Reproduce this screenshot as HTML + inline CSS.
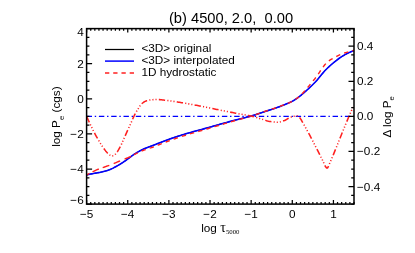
<!DOCTYPE html>
<html><head><meta charset="utf-8"><style>
html,body{margin:0;padding:0;background:#fff;}
svg{display:block;will-change:transform;font-family:"Liberation Sans",sans-serif;}
</style></head><body>
<svg width="415" height="253" viewBox="0 0 415 253">
<rect width="415" height="253" fill="#fff"/>
<g fill="none" stroke-linejoin="round">
<path d="M86.60,174.90 L87.60,174.68 L88.60,174.47 L89.60,174.26 L90.60,174.05 L91.60,173.86 L92.60,173.66 L93.60,173.48 L94.60,173.31 L95.60,173.15 L96.60,172.99 L97.60,172.82 L98.60,172.65 L99.60,172.47 L100.60,172.26 L101.60,172.04 L102.60,171.81 L103.60,171.56 L104.60,171.29 L105.60,171.01 L106.60,170.71 L107.60,170.39 L108.60,170.05 L109.60,169.69 L110.60,169.29 L111.60,168.84 L112.60,168.36 L113.60,167.85 L114.60,167.32 L115.60,166.77 L116.60,166.22 L117.60,165.66 L118.60,165.09 L119.60,164.50 L120.60,163.88 L121.60,163.26 L122.60,162.61 L123.60,161.95 L124.60,161.29 L125.60,160.61 L126.60,159.92 L127.60,159.20 L128.60,158.45 L129.60,157.67 L130.60,156.90 L131.60,156.13 L132.60,155.38 L133.60,154.67 L134.60,154.00 L135.60,153.37 L136.60,152.76 L137.60,152.16 L138.60,151.58 L139.60,151.02 L140.60,150.49 L141.60,149.98 L142.60,149.49 L143.60,149.03 L144.60,148.59 L145.60,148.17 L146.60,147.77 L147.60,147.38 L148.60,147.00 L149.60,146.63 L150.60,146.27 L151.60,145.90 L152.60,145.53 L153.60,145.15 L154.60,144.77 L155.60,144.38 L156.60,143.99 L157.60,143.61 L158.60,143.22 L159.60,142.83 L160.60,142.44 L161.60,142.05 L162.60,141.67 L163.60,141.29 L164.60,140.91 L165.60,140.53 L166.60,140.16 L167.60,139.79 L168.60,139.42 L169.60,139.07 L170.60,138.71 L171.60,138.37 L172.60,138.02 L173.60,137.69 L174.60,137.35 L175.60,137.02 L176.60,136.69 L177.60,136.37 L178.60,136.05 L179.60,135.73 L180.60,135.42 L181.60,135.11 L182.60,134.80 L183.60,134.49 L184.60,134.19 L185.60,133.89 L186.60,133.59 L187.60,133.29 L188.60,133.00 L189.60,132.71 L190.60,132.43 L191.60,132.15 L192.60,131.87 L193.60,131.59 L194.60,131.32 L195.60,131.05 L196.60,130.78 L197.60,130.51 L198.60,130.24 L199.60,129.97 L200.60,129.70 L201.60,129.43 L202.60,129.16 L203.60,128.89 L204.60,128.61 L205.60,128.33 L206.60,128.05 L207.60,127.77 L208.60,127.49 L209.60,127.21 L210.60,126.93 L211.60,126.65 L212.60,126.36 L213.60,126.08 L214.60,125.80 L215.60,125.51 L216.60,125.23 L217.60,124.94 L218.60,124.66 L219.60,124.38 L220.60,124.10 L221.60,123.81 L222.60,123.53 L223.60,123.26 L224.60,122.98 L225.60,122.70 L226.60,122.42 L227.60,122.15 L228.60,121.88 L229.60,121.61 L230.60,121.34 L231.60,121.08 L232.60,120.82 L233.60,120.56 L234.60,120.31 L235.60,120.05 L236.60,119.81 L237.60,119.56 L238.60,119.31 L239.60,119.06 L240.60,118.81 L241.60,118.56 L242.60,118.31 L243.60,118.06 L244.60,117.81 L245.60,117.55 L246.60,117.29 L247.60,117.02 L248.60,116.75 L249.60,116.47 L250.60,116.19 L251.60,115.90 L252.60,115.60 L253.60,115.29 L254.60,114.98 L255.60,114.66 L256.60,114.33 L257.60,114.00 L258.60,113.67 L259.60,113.33 L260.60,113.00 L261.60,112.66 L262.60,112.32 L263.60,111.99 L264.60,111.66 L265.60,111.33 L266.60,111.01 L267.60,110.69 L268.60,110.37 L269.60,110.06 L270.60,109.75 L271.60,109.43 L272.60,109.11 L273.60,108.78 L274.60,108.44 L275.60,108.09 L276.60,107.73 L277.60,107.37 L278.60,107.00 L279.60,106.63 L280.60,106.25 L281.60,105.86 L282.60,105.46 L283.60,105.06 L284.60,104.66 L285.60,104.25 L286.60,103.85 L287.60,103.44 L288.60,103.02 L289.60,102.58 L290.60,102.11 L291.60,101.62 L292.60,101.09 L293.60,100.52 L294.60,99.90 L295.60,99.23 L296.60,98.54 L297.60,97.81 L298.60,97.07 L299.60,96.31 L300.60,95.53 L301.60,94.75 L302.60,93.93 L303.60,93.09 L304.60,92.22 L305.60,91.33 L306.60,90.42 L307.60,89.49 L308.60,88.56 L309.60,87.62 L310.60,86.67 L311.60,85.71 L312.60,84.74 L313.60,83.75 L314.60,82.74 L315.60,81.70 L316.60,80.62 L317.60,79.51 L318.60,78.32 L319.60,77.05 L320.60,75.81 L321.60,74.59 L322.60,73.37 L323.60,72.18 L324.60,71.05 L325.60,69.99 L326.60,68.98 L327.60,68.00 L328.60,67.05 L329.60,66.13 L330.60,65.23 L331.60,64.36 L332.60,63.51 L333.60,62.68 L334.60,61.87 L335.60,61.06 L336.60,60.27 L337.60,59.50 L338.60,58.75 L339.60,58.02 L340.60,57.33 L341.60,56.68 L342.60,56.06 L343.60,55.47 L344.60,54.90 L345.60,54.35 L346.60,53.83 L347.60,53.32 L348.60,52.83 L349.60,52.36 L350.60,51.90 L351.60,51.46 L352.60,51.05 L353.60,50.65 L354.00,50.50" stroke="#000" stroke-width="1.0"/>
<path d="M86.60,174.90 L87.60,174.68 L88.60,174.47 L89.60,174.26 L90.60,174.05 L91.60,173.86 L92.60,173.66 L93.60,173.48 L94.60,173.31 L95.60,173.15 L96.60,172.99 L97.60,172.82 L98.60,172.65 L99.60,172.47 L100.60,172.26 L101.60,172.04 L102.60,171.81 L103.60,171.56 L104.60,171.29 L105.60,171.01 L106.60,170.71 L107.60,170.39 L108.60,170.05 L109.60,169.69 L110.60,169.29 L111.60,168.84 L112.60,168.36 L113.60,167.85 L114.60,167.32 L115.60,166.77 L116.60,166.22 L117.60,165.66 L118.60,165.09 L119.60,164.50 L120.60,163.88 L121.60,163.26 L122.60,162.61 L123.60,161.95 L124.60,161.29 L125.60,160.61 L126.60,159.92 L127.60,159.20 L128.60,158.45 L129.60,157.67 L130.60,156.90 L131.60,156.13 L132.60,155.38 L133.60,154.67 L134.60,154.00 L135.60,153.37 L136.60,152.76 L137.60,152.16 L138.60,151.58 L139.60,151.02 L140.60,150.49 L141.60,149.98 L142.60,149.49 L143.60,149.03 L144.60,148.59 L145.60,148.17 L146.60,147.77 L147.60,147.38 L148.60,147.00 L149.60,146.63 L150.60,146.27 L151.60,145.90 L152.60,145.53 L153.60,145.15 L154.60,144.77 L155.60,144.38 L156.60,143.99 L157.60,143.61 L158.60,143.22 L159.60,142.83 L160.60,142.44 L161.60,142.05 L162.60,141.67 L163.60,141.29 L164.60,140.91 L165.60,140.53 L166.60,140.16 L167.60,139.79 L168.60,139.42 L169.60,139.07 L170.60,138.71 L171.60,138.37 L172.60,138.02 L173.60,137.69 L174.60,137.35 L175.60,137.02 L176.60,136.69 L177.60,136.37 L178.60,136.05 L179.60,135.73 L180.60,135.42 L181.60,135.11 L182.60,134.80 L183.60,134.49 L184.60,134.19 L185.60,133.89 L186.60,133.59 L187.60,133.29 L188.60,133.00 L189.60,132.71 L190.60,132.43 L191.60,132.15 L192.60,131.87 L193.60,131.59 L194.60,131.32 L195.60,131.05 L196.60,130.78 L197.60,130.51 L198.60,130.24 L199.60,129.97 L200.60,129.70 L201.60,129.43 L202.60,129.16 L203.60,128.89 L204.60,128.61 L205.60,128.33 L206.60,128.05 L207.60,127.77 L208.60,127.49 L209.60,127.21 L210.60,126.93 L211.60,126.65 L212.60,126.36 L213.60,126.08 L214.60,125.80 L215.60,125.51 L216.60,125.23 L217.60,124.94 L218.60,124.66 L219.60,124.38 L220.60,124.10 L221.60,123.81 L222.60,123.53 L223.60,123.26 L224.60,122.98 L225.60,122.70 L226.60,122.42 L227.60,122.15 L228.60,121.88 L229.60,121.61 L230.60,121.34 L231.60,121.08 L232.60,120.82 L233.60,120.56 L234.60,120.31 L235.60,120.05 L236.60,119.81 L237.60,119.56 L238.60,119.31 L239.60,119.06 L240.60,118.81 L241.60,118.56 L242.60,118.31 L243.60,118.06 L244.60,117.81 L245.60,117.55 L246.60,117.29 L247.60,117.02 L248.60,116.75 L249.60,116.47 L250.60,116.19 L251.60,115.90 L252.60,115.60 L253.60,115.29 L254.60,114.98 L255.60,114.66 L256.60,114.33 L257.60,114.00 L258.60,113.67 L259.60,113.33 L260.60,113.00 L261.60,112.66 L262.60,112.32 L263.60,111.99 L264.60,111.66 L265.60,111.33 L266.60,111.01 L267.60,110.69 L268.60,110.37 L269.60,110.06 L270.60,109.75 L271.60,109.43 L272.60,109.11 L273.60,108.78 L274.60,108.44 L275.60,108.09 L276.60,107.73 L277.60,107.37 L278.60,107.00 L279.60,106.63 L280.60,106.25 L281.60,105.86 L282.60,105.46 L283.60,105.06 L284.60,104.66 L285.60,104.25 L286.60,103.85 L287.60,103.44 L288.60,103.02 L289.60,102.58 L290.60,102.11 L291.60,101.62 L292.60,101.09 L293.60,100.52 L294.60,99.90 L295.60,99.23 L296.60,98.54 L297.60,97.81 L298.60,97.07 L299.60,96.31 L300.60,95.53 L301.60,94.75 L302.60,93.93 L303.60,93.09 L304.60,92.22 L305.60,91.33 L306.60,90.42 L307.60,89.49 L308.60,88.56 L309.60,87.62 L310.60,86.67 L311.60,85.71 L312.60,84.74 L313.60,83.75 L314.60,82.74 L315.60,81.70 L316.60,80.62 L317.60,79.51 L318.60,78.32 L319.60,77.05 L320.60,75.81 L321.60,74.59 L322.60,73.37 L323.60,72.18 L324.60,71.05 L325.60,69.99 L326.60,68.98 L327.60,68.00 L328.60,67.05 L329.60,66.13 L330.60,65.23 L331.60,64.36 L332.60,63.51 L333.60,62.68 L334.60,61.87 L335.60,61.06 L336.60,60.27 L337.60,59.50 L338.60,58.75 L339.60,58.02 L340.60,57.33 L341.60,56.68 L342.60,56.06 L343.60,55.47 L344.60,54.90 L345.60,54.35 L346.60,53.83 L347.60,53.32 L348.60,52.83 L349.60,52.36 L350.60,51.90 L351.60,51.46 L352.60,51.05 L353.60,50.65 L354.00,50.50" stroke="#0000ff" stroke-width="1.6"/>
<path d="M86.60,174.90 L87.60,174.38 L88.60,173.87 L89.60,173.37 L90.60,172.87 L91.60,172.38 L92.60,171.90 L93.60,171.42 L94.60,170.93 L95.60,170.44 L96.60,169.96 L97.60,169.49 L98.60,169.06 L99.60,168.65 L100.60,168.30 L101.60,167.98 L102.60,167.65 L103.60,167.32 L104.60,166.97 L105.60,166.63 L106.60,166.27 L107.60,165.91 L108.60,165.55 L109.60,165.19 L110.60,164.82 L111.60,164.43 L112.60,164.03 L113.60,163.62 L114.60,163.21 L115.60,162.79 L116.60,162.37 L117.60,161.94 L118.60,161.52 L119.60,161.10 L120.60,160.69 L121.60,160.29 L122.60,159.88 L123.60,159.47 L124.60,159.06 L125.60,158.65 L126.60,158.23 L127.60,157.83 L128.60,157.43 L129.60,157.02 L130.60,156.56 L131.60,156.05 L132.60,155.48 L133.60,154.92 L134.60,154.40 L135.60,153.90 L136.60,153.40 L137.60,152.92 L138.60,152.44 L139.60,151.97 L140.60,151.52 L141.60,151.08 L142.60,150.66 L143.60,150.26 L144.60,149.89 L145.60,149.54 L146.60,149.20 L147.60,148.87 L148.60,148.55 L149.60,148.22 L150.60,147.90 L151.60,147.56 L152.60,147.22 L153.60,146.85 L154.60,146.47 L155.60,146.08 L156.60,145.69 L157.60,145.30 L158.60,144.90 L159.60,144.51 L160.60,144.11 L161.60,143.71 L162.60,143.32 L163.60,142.92 L164.60,142.53 L165.60,142.14 L166.60,141.75 L167.60,141.37 L168.60,140.99 L169.60,140.62 L170.60,140.25 L171.60,139.89 L172.60,139.53 L173.60,139.18 L174.60,138.83 L175.60,138.48 L176.60,138.14 L177.60,137.80 L178.60,137.47 L179.60,137.14 L180.60,136.81 L181.60,136.49 L182.60,136.17 L183.60,135.85 L184.60,135.53 L185.60,135.22 L186.60,134.90 L187.60,134.59 L188.60,134.29 L189.60,133.99 L190.60,133.69 L191.60,133.39 L192.60,133.10 L193.60,132.81 L194.60,132.52 L195.60,132.24 L196.60,131.95 L197.60,131.67 L198.60,131.39 L199.60,131.10 L200.60,130.82 L201.60,130.53 L202.60,130.25 L203.60,129.96 L204.60,129.67 L205.60,129.38 L206.60,129.08 L207.60,128.79 L208.60,128.49 L209.60,128.19 L210.60,127.89 L211.60,127.59 L212.60,127.29 L213.60,126.99 L214.60,126.69 L215.60,126.39 L216.60,126.09 L217.60,125.79 L218.60,125.49 L219.60,125.19 L220.60,124.88 L221.60,124.58 L222.60,124.28 L223.60,123.98 L224.60,123.68 L225.60,123.38 L226.60,123.08 L227.60,122.78 L228.60,122.48 L229.60,122.18 L230.60,121.89 L231.60,121.59 L232.60,121.31 L233.60,121.02 L234.60,120.74 L235.60,120.46 L236.60,120.18 L237.60,119.91 L238.60,119.63 L239.60,119.35 L240.60,119.08 L241.60,118.80 L242.60,118.53 L243.60,118.25 L244.60,117.97 L245.60,117.69 L246.60,117.40 L247.60,117.12 L248.60,116.82 L249.60,116.53 L250.60,116.23 L251.60,115.92 L252.60,115.61 L253.60,115.29 L254.60,114.97 L255.60,114.63 L256.60,114.30 L257.60,113.95 L258.60,113.61 L259.60,113.26 L260.60,112.91 L261.60,112.57 L262.60,112.22 L263.60,111.87 L264.60,111.53 L265.60,111.19 L266.60,110.86 L267.60,110.54 L268.60,110.21 L269.60,109.89 L270.60,109.57 L271.60,109.25 L272.60,108.92 L273.60,108.59 L274.60,108.24 L275.60,107.89 L276.60,107.54 L277.60,107.17 L278.60,106.80 L279.60,106.43 L280.60,106.06 L281.60,105.68 L282.60,105.30 L283.60,104.92 L284.60,104.53 L285.60,104.15 L286.60,103.76 L287.60,103.37 L288.60,102.96 L289.60,102.54 L290.60,102.09 L291.60,101.61 L292.60,101.09 L293.60,100.52 L294.60,99.90 L295.60,99.23 L296.60,98.54 L297.60,97.81 L298.60,97.05 L299.60,96.19 L300.60,95.26 L301.60,94.28 L302.60,93.24 L303.60,92.17 L304.60,91.09 L305.60,89.95 L306.60,88.76 L307.60,87.55 L308.60,86.33 L309.60,85.12 L310.60,83.92 L311.60,82.73 L312.60,81.53 L313.60,80.32 L314.60,79.08 L315.60,77.80 L316.60,76.47 L317.60,75.07 L318.60,73.57 L319.60,72.01 L320.60,70.51 L321.60,69.06 L322.60,67.67 L323.60,66.32 L324.60,65.03 L325.60,63.86 L326.60,62.78 L327.60,61.82 L328.60,61.01 L329.60,60.31 L330.60,59.70 L331.60,59.14 L332.60,58.61 L333.60,58.06 L334.60,57.49 L335.60,56.95 L336.60,56.43 L337.60,55.92 L338.60,55.44 L339.60,54.98 L340.60,54.55 L341.60,54.14 L342.60,53.75 L343.60,53.38 L344.60,53.03 L345.60,52.70 L346.60,52.38 L347.60,52.08 L348.60,51.78 L349.60,51.49 L350.60,51.20 L351.60,50.92 L352.60,50.66 L353.60,50.40 L354.00,50.30" stroke="#ff2020" stroke-width="1.4" stroke-dasharray="3.2,3.4,7.0,4.1,7.0,4.7,7.0,4.8,7.0,3.3,4.4,4.15,4.4,4.15,4.4,4.15,4.4,4.15,4.4,4.15,4.4,4.15,4.4,4.15,4.4,4.15,4.4,4.15,4.4,4.15,4.4,4.15,4.4,4.15,4.4,4.15,4.4,4.15,4.4,4.15,4.4,4.15,4.4,4.15,4.4,4.15,4.4,4.15,4.4,4.15,4.4,4.15,4.4,4.15,4.4,4.15,4.4,4.15,4.4,4.15,4.4,4.15,4.4,4.15,4.4,4.15,4.4,4.15,4.4,4.15,4.4,4.15,4.4,4.15,4.4,4.15,4.4,4.15"/>
<path d="M86.6,116.35 H354.0" stroke="#0000ff" stroke-width="1.2" stroke-dasharray="5.4,2.75,1.4,2.75"/>
<path d="M86.60,116.35 L87.60,118.60 L88.60,120.80 L89.60,122.97 L90.60,125.09 L91.60,127.18 L92.60,129.23 L93.60,131.23 L94.60,133.15 L95.60,135.02 L96.60,136.83 L97.60,138.59 L98.60,140.31 L99.60,142.01 L100.60,143.66 L101.60,145.25 L102.60,146.75 L103.60,148.19 L104.60,149.57 L105.60,150.88 L106.60,152.08 L107.60,153.18 L108.60,154.19 L109.60,154.96 L110.60,155.60 L111.60,155.99 L112.60,155.88 L113.60,155.49 L114.60,154.91 L115.60,153.94 L116.60,152.77 L117.60,151.34 L118.60,149.69 L119.60,147.90 L120.60,146.03 L121.60,143.94 L122.60,141.67 L123.60,139.35 L124.60,137.08 L125.60,134.86 L126.60,132.65 L127.60,130.44 L128.60,128.22 L129.60,126.02 L130.60,123.83 L131.60,121.63 L132.60,119.38 L133.60,117.02 L134.60,114.93 L135.60,113.03 L136.60,111.27 L137.60,109.63 L138.60,108.06 L139.60,106.50 L140.60,105.06 L141.60,103.88 L142.60,103.00 L143.60,102.26 L144.60,101.64 L145.60,101.15 L146.60,100.79 L147.60,100.49 L148.60,100.24 L149.60,100.05 L150.60,99.93 L151.60,99.81 L152.60,99.71 L153.60,99.62 L154.60,99.55 L155.60,99.51 L156.60,99.50 L157.60,99.52 L158.60,99.57 L159.60,99.64 L160.60,99.73 L161.60,99.83 L162.60,99.94 L163.60,100.05 L164.60,100.16 L165.60,100.26 L166.60,100.38 L167.60,100.50 L168.60,100.63 L169.60,100.76 L170.60,100.91 L171.60,101.05 L172.60,101.21 L173.60,101.36 L174.60,101.52 L175.60,101.68 L176.60,101.85 L177.60,102.01 L178.60,102.17 L179.60,102.34 L180.60,102.50 L181.60,102.66 L182.60,102.83 L183.60,103.00 L184.60,103.17 L185.60,103.34 L186.60,103.51 L187.60,103.69 L188.60,103.87 L189.60,104.05 L190.60,104.23 L191.60,104.42 L192.60,104.60 L193.60,104.79 L194.60,104.97 L195.60,105.16 L196.60,105.35 L197.60,105.54 L198.60,105.73 L199.60,105.92 L200.60,106.12 L201.60,106.31 L202.60,106.51 L203.60,106.71 L204.60,106.91 L205.60,107.12 L206.60,107.32 L207.60,107.53 L208.60,107.74 L209.60,107.95 L210.60,108.16 L211.60,108.37 L212.60,108.58 L213.60,108.78 L214.60,108.99 L215.60,109.20 L216.60,109.41 L217.60,109.61 L218.60,109.82 L219.60,110.02 L220.60,110.22 L221.60,110.42 L222.60,110.62 L223.60,110.82 L224.60,111.01 L225.60,111.21 L226.60,111.41 L227.60,111.60 L228.60,111.80 L229.60,111.99 L230.60,112.19 L231.60,112.38 L232.60,112.58 L233.60,112.77 L234.60,112.96 L235.60,113.16 L236.60,113.35 L237.60,113.54 L238.60,113.73 L239.60,113.92 L240.60,114.11 L241.60,114.30 L242.60,114.47 L243.60,114.65 L244.60,114.82 L245.60,115.00 L246.60,115.17 L247.60,115.35 L248.60,115.54 L249.60,115.73 L250.60,115.93 L251.60,116.15 L252.60,116.37 L253.60,116.62 L254.60,116.90 L255.60,117.19 L256.60,117.50 L257.60,117.82 L258.60,118.14 L259.60,118.46 L260.60,118.77 L261.60,119.08 L262.60,119.38 L263.60,119.71 L264.60,120.04 L265.60,120.38 L266.60,120.70 L267.60,120.99 L268.60,121.24 L269.60,121.44 L270.60,121.58 L271.60,121.71 L272.60,121.83 L273.60,121.94 L274.60,122.04 L275.60,122.12 L276.60,122.17 L277.60,122.20 L278.60,122.18 L279.60,122.04 L280.60,121.82 L281.60,121.52 L282.60,121.19 L283.60,120.84 L284.60,120.47 L285.60,119.97 L286.60,119.39 L287.60,118.77 L288.60,118.18 L289.60,117.67 L290.60,117.26 L291.60,116.85 L292.60,116.49 L293.60,116.25 L294.60,116.15 L295.60,116.08 L296.60,116.03 L297.60,116.00 L298.60,116.31 L299.60,117.50 L300.60,118.86 L301.60,120.52 L302.60,122.32 L303.60,124.13 L304.60,125.87 L305.60,127.65 L306.60,129.45 L307.60,131.28 L308.60,133.13 L309.60,134.99 L310.60,136.86 L311.60,138.76 L312.60,140.69 L313.60,142.63 L314.60,144.58 L315.60,146.54 L316.60,148.50 L317.60,150.47 L318.60,152.47 L319.60,154.46 L320.60,156.44 L321.60,158.38 L322.60,160.29 L323.60,162.52 L324.60,164.85 L325.60,166.83 L326.60,168.03 L327.60,167.90 L328.60,166.00 L329.60,163.43 L330.60,161.20 L331.60,158.92 L332.60,156.55 L333.60,154.11 L334.60,151.65 L335.60,149.18 L336.60,146.73 L337.60,144.24 L338.60,141.72 L339.60,139.20 L340.60,136.68 L341.60,134.19 L342.60,131.73 L343.60,129.28 L344.60,126.84 L345.60,124.42 L346.60,122.02 L347.60,119.64 L348.60,117.29 L349.60,114.97 L350.60,112.67 L351.60,110.39 L352.60,108.13 L353.60,105.89 L354.00,105.00" stroke="#ff2020" stroke-width="1.55" stroke-dasharray="6.3,2.25,1.1,2.0,1.1,2.0,1.1,2.25" stroke-dashoffset="17.80"/>
</g>
<g fill="none" stroke="#000" stroke-width="1.5">
<rect x="86.6" y="28.6" width="267.4" height="175.5"/>
<path d="M86.60,204.1 v-4.0 M86.60,28.6 v4.0 M90.71,204.1 v-2.2 M90.71,28.6 v2.2 M94.83,204.1 v-2.2 M94.83,28.6 v2.2 M98.94,204.1 v-2.2 M98.94,28.6 v2.2 M103.06,204.1 v-2.2 M103.06,28.6 v2.2 M107.17,204.1 v-2.2 M107.17,28.6 v2.2 M111.28,204.1 v-2.2 M111.28,28.6 v2.2 M115.40,204.1 v-2.2 M115.40,28.6 v2.2 M119.51,204.1 v-2.2 M119.51,28.6 v2.2 M123.62,204.1 v-2.2 M123.62,28.6 v2.2 M127.74,204.1 v-4.0 M127.74,28.6 v4.0 M131.85,204.1 v-2.2 M131.85,28.6 v2.2 M135.97,204.1 v-2.2 M135.97,28.6 v2.2 M140.08,204.1 v-2.2 M140.08,28.6 v2.2 M144.19,204.1 v-2.2 M144.19,28.6 v2.2 M148.31,204.1 v-2.2 M148.31,28.6 v2.2 M152.42,204.1 v-2.2 M152.42,28.6 v2.2 M156.54,204.1 v-2.2 M156.54,28.6 v2.2 M160.65,204.1 v-2.2 M160.65,28.6 v2.2 M164.76,204.1 v-2.2 M164.76,28.6 v2.2 M168.88,204.1 v-4.0 M168.88,28.6 v4.0 M172.99,204.1 v-2.2 M172.99,28.6 v2.2 M177.10,204.1 v-2.2 M177.10,28.6 v2.2 M181.22,204.1 v-2.2 M181.22,28.6 v2.2 M185.33,204.1 v-2.2 M185.33,28.6 v2.2 M189.45,204.1 v-2.2 M189.45,28.6 v2.2 M193.56,204.1 v-2.2 M193.56,28.6 v2.2 M197.67,204.1 v-2.2 M197.67,28.6 v2.2 M201.79,204.1 v-2.2 M201.79,28.6 v2.2 M205.90,204.1 v-2.2 M205.90,28.6 v2.2 M210.02,204.1 v-4.0 M210.02,28.6 v4.0 M214.13,204.1 v-2.2 M214.13,28.6 v2.2 M218.24,204.1 v-2.2 M218.24,28.6 v2.2 M222.36,204.1 v-2.2 M222.36,28.6 v2.2 M226.47,204.1 v-2.2 M226.47,28.6 v2.2 M230.58,204.1 v-2.2 M230.58,28.6 v2.2 M234.70,204.1 v-2.2 M234.70,28.6 v2.2 M238.81,204.1 v-2.2 M238.81,28.6 v2.2 M242.93,204.1 v-2.2 M242.93,28.6 v2.2 M247.04,204.1 v-2.2 M247.04,28.6 v2.2 M251.15,204.1 v-4.0 M251.15,28.6 v4.0 M255.27,204.1 v-2.2 M255.27,28.6 v2.2 M259.38,204.1 v-2.2 M259.38,28.6 v2.2 M263.50,204.1 v-2.2 M263.50,28.6 v2.2 M267.61,204.1 v-2.2 M267.61,28.6 v2.2 M271.72,204.1 v-2.2 M271.72,28.6 v2.2 M275.84,204.1 v-2.2 M275.84,28.6 v2.2 M279.95,204.1 v-2.2 M279.95,28.6 v2.2 M284.06,204.1 v-2.2 M284.06,28.6 v2.2 M288.18,204.1 v-2.2 M288.18,28.6 v2.2 M292.29,204.1 v-4.0 M292.29,28.6 v4.0 M296.41,204.1 v-2.2 M296.41,28.6 v2.2 M300.52,204.1 v-2.2 M300.52,28.6 v2.2 M304.63,204.1 v-2.2 M304.63,28.6 v2.2 M308.75,204.1 v-2.2 M308.75,28.6 v2.2 M312.86,204.1 v-2.2 M312.86,28.6 v2.2 M316.98,204.1 v-2.2 M316.98,28.6 v2.2 M321.09,204.1 v-2.2 M321.09,28.6 v2.2 M325.20,204.1 v-2.2 M325.20,28.6 v2.2 M329.32,204.1 v-2.2 M329.32,28.6 v2.2 M333.43,204.1 v-4.0 M333.43,28.6 v4.0 M337.54,204.1 v-2.2 M337.54,28.6 v2.2 M341.66,204.1 v-2.2 M341.66,28.6 v2.2 M345.77,204.1 v-2.2 M345.77,28.6 v2.2 M349.89,204.1 v-2.2 M349.89,28.6 v2.2 M354.00,204.1 v-2.2 M354.00,28.6 v2.2 M86.6,204.10 h5.5 M86.6,195.32 h2.8 M86.6,186.55 h2.8 M86.6,177.77 h2.8 M86.6,169.00 h5.5 M86.6,160.22 h2.8 M86.6,151.45 h2.8 M86.6,142.68 h2.8 M86.6,133.90 h5.5 M86.6,125.12 h2.8 M86.6,116.35 h2.8 M86.6,107.58 h2.8 M86.6,98.80 h5.5 M86.6,90.03 h2.8 M86.6,81.25 h2.8 M86.6,72.47 h2.8 M86.6,63.70 h5.5 M86.6,54.92 h2.8 M86.6,46.15 h2.8 M86.6,37.38 h2.8 M86.6,28.60 h5.5 M354.0,204.10 h-2.8 M354.0,195.32 h-2.8 M354.0,186.55 h-5.5 M354.0,177.77 h-2.8 M354.0,169.00 h-2.8 M354.0,160.22 h-2.8 M354.0,151.45 h-5.5 M354.0,142.67 h-2.8 M354.0,133.90 h-2.8 M354.0,125.12 h-2.8 M354.0,116.35 h-5.5 M354.0,107.57 h-2.8 M354.0,98.80 h-2.8 M354.0,90.03 h-2.8 M354.0,81.25 h-5.5 M354.0,72.47 h-2.8 M354.0,63.70 h-2.8 M354.0,54.92 h-2.8 M354.0,46.15 h-5.5 M354.0,37.37 h-2.8 M354.0,28.60 h-2.8" stroke-width="1.25"/>
</g>
<g fill="none" stroke-width="1.5">
<path d="M105,49.5 H134" stroke="#000" stroke-width="1.25"/>
<path d="M105,61.1 H134" stroke="#0000ff"/>
<path d="M105,72.9 H134" stroke="#ff2020" stroke-dasharray="4.3,3.93"/>
</g>
<g fill="#000">
<text x="231" y="23.1" font-size="14.7" text-anchor="middle" >(b) 4500, 2.0,&#160; 0.00</text>
<text x="141.4" y="52.4" font-size="11.75" text-anchor="start" >&lt;3D&gt; original</text>
<text x="141.4" y="64.0" font-size="11.75" text-anchor="start" >&lt;3D&gt; interpolated</text>
<text x="141.4" y="75.6" font-size="11.75" text-anchor="start" >1D hydrostatic</text>
<text x="86.6" y="218.0" font-size="11.75" text-anchor="middle" >−5</text><text x="127.7" y="218.0" font-size="11.75" text-anchor="middle" >−4</text><text x="168.9" y="218.0" font-size="11.75" text-anchor="middle" >−3</text><text x="210.0" y="218.0" font-size="11.75" text-anchor="middle" >−2</text><text x="251.2" y="218.0" font-size="11.75" text-anchor="middle" >−1</text><text x="292.3" y="218.0" font-size="11.75" text-anchor="middle" >0</text><text x="333.4" y="218.0" font-size="11.75" text-anchor="middle" >1</text><text x="83.7" y="35.5" font-size="11.75" text-anchor="end" >4</text><text x="83.7" y="68.0" font-size="11.75" text-anchor="end" >2</text><text x="83.7" y="103.1" font-size="11.75" text-anchor="end" >0</text><text x="83.7" y="138.2" font-size="11.75" text-anchor="end" >−2</text><text x="83.7" y="173.3" font-size="11.75" text-anchor="end" >−4</text><text x="83.7" y="203.8" font-size="11.75" text-anchor="end" >−6</text><text x="357" y="50.1" font-size="11.75" text-anchor="start" >0.4</text><text x="357" y="85.2" font-size="11.75" text-anchor="start" >0.2</text><text x="357" y="120.3" font-size="11.75" text-anchor="start" >0.0</text><text x="357" y="155.4" font-size="11.75" text-anchor="start" >−0.2</text><text x="357" y="190.6" font-size="11.75" text-anchor="start" >−0.4</text>
<text x="201.2" y="232" font-size="11.75">log<tspan font-family="Liberation Serif" font-size="14" dx="3.4">τ</tspan><tspan font-size="6.8" dy="2.0" font-family="Liberation Serif">5000</tspan></text>
<text transform="translate(60.3,116.6) rotate(-90)" font-size="11.75" text-anchor="middle">log P<tspan font-size="7.8" dy="3.3">e</tspan><tspan dy="-3.3"> (cgs)</tspan></text>
<text transform="translate(390.5,116.9) rotate(-90)" font-size="11.75" text-anchor="middle">Δ log P<tspan font-size="7.8" dy="3.3" dx="-0.3">e</tspan></text>
</g>
</svg>
</body></html>
